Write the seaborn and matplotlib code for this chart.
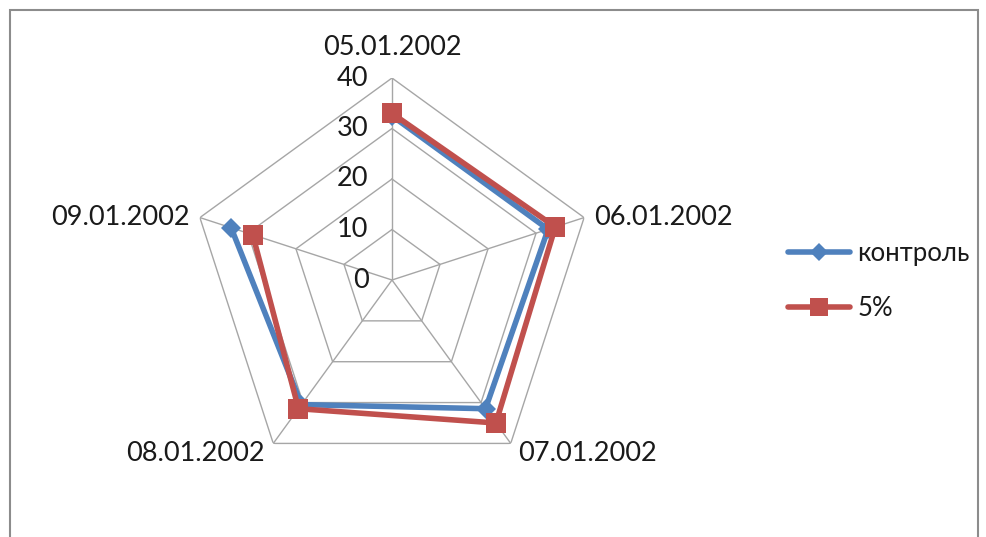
import numpy as np
import pandas as pd
import matplotlib
matplotlib.use("Agg")
import matplotlib.pyplot as plt
from matplotlib.patches import Rectangle
from matplotlib.lines import Line2D
import seaborn as sns

# data
dates = ["05.01.2002", "06.01.2002", "07.01.2002", "08.01.2002", "09.01.2002"]
control = [32.5, 32.5, 31.5, 30.5, 33.5]
pct5 = [33, 34, 35, 31.5, 29]
series_names = ["контроль", "5%"]
rings = [0, 10, 20, 30, 40]

sns.set_style("white")
plt.rcParams["font.family"] = ["Lato", "DejaVu Sans"]

W, H = 987, 537
fig = plt.figure(figsize=(W / 100, H / 100), dpi=100)

# polar axes placed so that the center sits at (392, 280) px, radius 40 = 202 px
cx, cy, R = 392, 280, 202
ax = fig.add_axes([(cx - R) / W, (H - cy - R) / H, 2 * R / W, 2 * R / H],
                  projection="polar")
ax.set_theta_zero_location("N")
ax.set_theta_direction(-1)
ax.set_ylim(0, 40)
ax.grid(False)
ax.spines["polar"].set_visible(False)
ax.set_xticks([])
ax.set_yticks([])
ax.patch.set_alpha(0)

n = len(dates)
angles = np.arange(n) * 2 * np.pi / n
closed = np.append(angles, angles[0])

# pentagon grid and spokes
for r in rings[1:]:
    ax.plot(closed, [r] * (n + 1), color="#a6a6a6", lw=1.0, zorder=1)
for a in angles:
    ax.plot([a, a], [0, 40], color="#a6a6a6", lw=1.0, zorder=1)

# series
colors = {"контроль": "#4F81BD", "5%": "#C0504D"}
markers = {"контроль": "D", "5%": "s"}
msize = {"контроль": 10, "5%": 15}
for name, vals in zip(series_names, [control, pct5]):
    df = pd.DataFrame({"theta": closed, "value": vals + [vals[0]]})
    sns.lineplot(data=df, x="theta", y="value", sort=False, ax=ax,
                 color=colors[name], lw=4, marker=markers[name],
                 markersize=msize[name], markeredgewidth=0, zorder=3)
ax.set_xlabel("")
ax.set_ylabel("")
ax.set_ylim(0, 40)

txt = "#1a1a1a"
fs = 19.5

# radial tick labels along the top spoke
for r in rings:
    ax.annotate(str(r), xy=(0, r), xytext=(-17, 0), textcoords="offset points",
                ha="right", va="center", fontsize=fs, color=txt)

# category labels
offsets = [(0, 13, "center", "bottom"), (7, 0, "left", "center"),
           (5, 2, "left", "top"), (-6, 2, "right", "top"),
           (-7, 0, "right", "center")]
for a, lab, (dx, dy, ha, va) in zip(angles, dates, offsets):
    ax.annotate(lab, xy=(a, 40), xytext=(dx, dy), textcoords="offset points",
                ha=ha, va=va, fontsize=fs, color=txt)

# legend
handles = [Line2D([], [], color=colors[s], lw=4, marker=markers[s],
                  markersize=msize[s] * 0.9, markeredgewidth=0)
           for s in series_names]
fig.legend(handles, series_names, loc="center left",
           bbox_to_anchor=(765 / W, (H - 281) / H), frameon=False,
           fontsize=18.5, handlelength=2.4, labelspacing=1.2, handletextpad=0.3,
           labelcolor=txt)

# outer chart border
fig.patches.append(Rectangle((10 / W, -0.05), 968 / W, 1.05 - 10 / H,
                             transform=fig.transFigure, fill=False,
                             edgecolor="#8c8c8c", lw=1.5))

fig.savefig("out.png", dpi=100)
